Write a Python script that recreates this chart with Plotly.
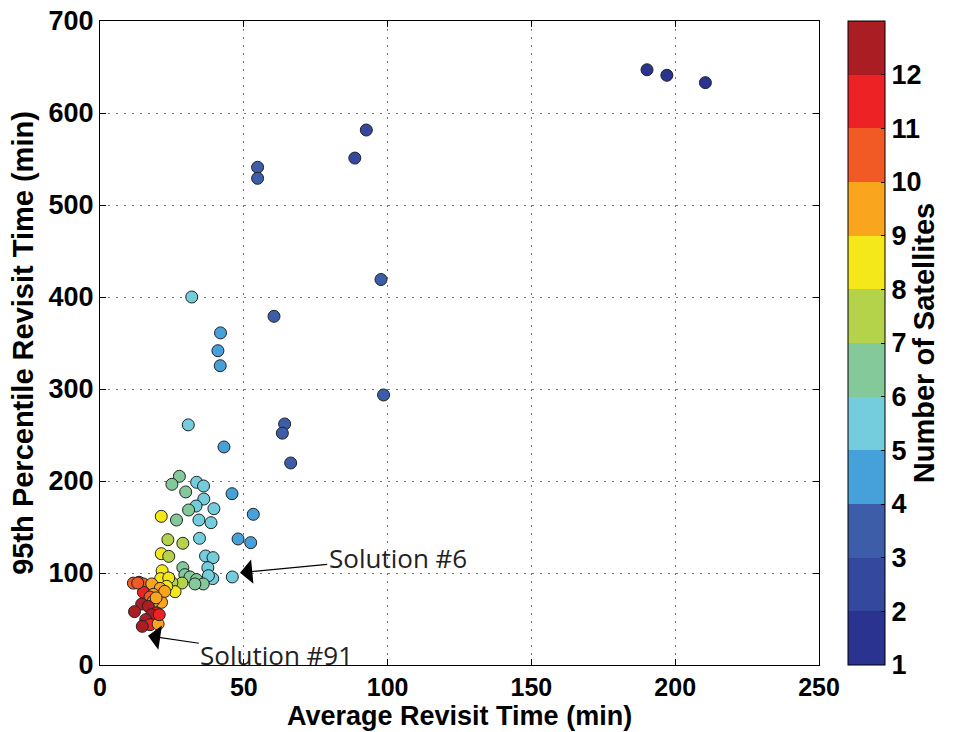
import plotly.graph_objects as go

# Average revisit time (min), 95th percentile revisit time (min), number of satellites
avg_time = [
    190.2, 197.1, 210.5,
    54.8, 54.8, 88.6, 92.6, 97.7, 60.5, 98.6, 64.2, 63.4, 66.3,
    31.9, 41.9, 41.0, 41.8, 30.7, 43.1,
    27.6, 25.0, 33.6, 36.0, 29.8, 45.9, 36.1, 33.4, 30.8, 39.6,
    21.3, 26.6, 34.4, 38.6, 53.3, 23.6, 28.8, 34.6, 48.0, 52.4,
    21.3, 23.9, 36.7, 39.3, 37.5, 28.8, 21.6, 46.0, 39.2, 37.7,
    29.5, 31.3, 33.6, 35.9, 33.0, 28.5, 25.0, 21.1, 23.9, 26.1,
    23.2, 13.6, 15.1, 18.0, 20.9, 15.1, 18.5, 17.4, 21.4, 18.5,
    14.5, 16.8, 12.0, 19.7, 18.0, 15.9, 17.4, 20.2, 14.7,
    11.6, 20.6, 22.5, 19.5, 13.1,
]
p95_time = [
    647, 641, 633,
    541, 529, 551, 581.5, 419, 379, 293.5, 262, 252, 219.6,
    400, 361, 341.6, 325.3, 261, 237,
    205.1, 196.4, 198.6, 194.6, 188.1, 186.2, 180.4, 172.8, 168.5, 169.9,
    161.6, 157.6, 157.6, 154.7, 163.8, 136.2, 132.3, 137.7, 137.0, 133.0,
    121.0, 118.1, 118.5, 116.7, 105.8, 105.8, 102.5, 95.7, 93.9, 97.1,
    98.2, 95.7, 92.8, 88.1, 88.1, 89.1, 89.5, 93.9, 94.6, 79.7,
    85.5, 89.9, 88.1, 88.1, 83.3, 79.0, 76.8, 73.9, 68.1, 69.2,
    66.3, 63.8, 58.0, 56.5, 54.7, 49.3, 43.8, 44.6, 42.0,
    89.0, 54.7, 80.0, 73.0, 89.1,
]
n_sats = [
    1, 1, 1,
    3, 3, 2, 2, 3, 3, 3, 3, 3, 3,
    5, 4, 4, 4, 5, 4,
    6, 6, 5, 5, 6, 4, 5, 5, 6, 5,
    8, 6, 5, 5, 4, 7, 7, 5, 4, 4,
    8, 7, 5, 5, 5, 6, 8, 5, 5, 5,
    6, 6, 6, 6, 6, 7, 7, 8, 8, 8,
    8, 10, 10, 9, 9, 11, 9, 10, 9, 9,
    12, 12, 12, 11, 12, 12, 11, 9, 12,
    10, 11, 9, 9, 10,
]

band_colors = ["#2B3390", "#34499E", "#3D5DA8", "#46A0DA", "#73CDDC", "#84C99A",
               "#B5D34A", "#F5E81A", "#F9A61E", "#F15A24", "#ED2224", "#A91D23"]
cbar_labels = [str(i) for i in range(1, 13)]
x_title = "Average Revisit Time (min)"
y_title = "95th Percentile Revisit Time (min)"
cbar_title = "Number of Satellites"

nb = len(band_colors)
colorscale = []
for i, c in enumerate(band_colors):
    colorscale.append([i / nb, c])
    colorscale.append([(i + 1) / nb, c])

bold_tick = dict(family="Liberation Sans, Arial, sans-serif", size=27, color="black", weight="bold")
bold_xtick = dict(family="Liberation Sans, Arial, sans-serif", size=25, color="black", weight="bold")
bold_title = dict(family="Liberation Sans, Arial, sans-serif", size=29, color="black", weight="bold")
bold_xtitle = dict(family="Liberation Sans, Arial, sans-serif", size=27, color="black", weight="bold")

fig = go.Figure()
fig.add_trace(go.Scatter(
    x=avg_time, y=p95_time, mode="markers",
    marker=dict(
        size=12, color=n_sats, colorscale=colorscale, cmin=0.5, cmax=12.5,
        line=dict(color="#222222", width=1),
        colorbar=dict(
            x=1.0403, xanchor="left", xpad=0, y=0, yanchor="bottom",
            len=1, lenmode="fraction", thickness=37, ypad=0,
            outlinewidth=1, outlinecolor="black",
            tickvals=[i - 0.5 for i in range(1, 13)], ticktext=cbar_labels,
            ticks="inside", ticklen=4, tickcolor="black",
            tickfont=bold_tick,
            title=dict(text=cbar_title, side="right", font=bold_title),
        ),
    ),
    showlegend=False,
))

ann_font = dict(family="Liberation Sans Narrow, Arial Narrow, Open Sans, sans-serif", size=26, color="#222")
fig.add_annotation(x=48.7, y=100.3, ax=103.5, ay=116.6, axref="x", ayref="y",
                   text="Solution #6", showarrow=True, arrowhead=1, arrowsize=3.4,
                   arrowwidth=1.2, arrowcolor="black", font=ann_font)
fig.add_annotation(x=16.7, y=31.8, ax=61.5, ay=11.2, axref="x", ayref="y",
                   text="Solution #91", showarrow=True, arrowhead=1, arrowsize=3.4,
                   arrowwidth=1.2, arrowcolor="black", font=ann_font)

# x-axis title as a paper-anchored annotation just under the tick labels
fig.add_annotation(x=0.5, y=-0.0795, xref="paper", yref="paper", yanchor="middle",
                   text=x_title, showarrow=False, font=bold_xtitle)

common = dict(
    showline=True, linecolor="black", linewidth=1, mirror="ticks",
    ticks="inside", ticklen=6, tickcolor="black",
    showgrid=True, gridcolor="#777777", gridwidth=1, griddash="2px,6px",
    zeroline=False, automargin=False,
)
fig.update_xaxes(range=[0, 250], tickvals=[0, 50, 100, 150, 200, 250], tickfont=bold_xtick,
                 **common)
fig.update_yaxes(range=[0, 700], tickvals=[0, 100, 200, 300, 400, 500, 600, 700], tickfont=bold_tick,
                 title=dict(text=y_title, font=bold_title, standoff=6),
                 **common)

fig.update_layout(
    width=953, height=732,
    margin=dict(l=100, r=134, t=21, b=67, autoexpand=False),
    paper_bgcolor="white", plot_bgcolor="white",
)
fig.write_html("out.html")
